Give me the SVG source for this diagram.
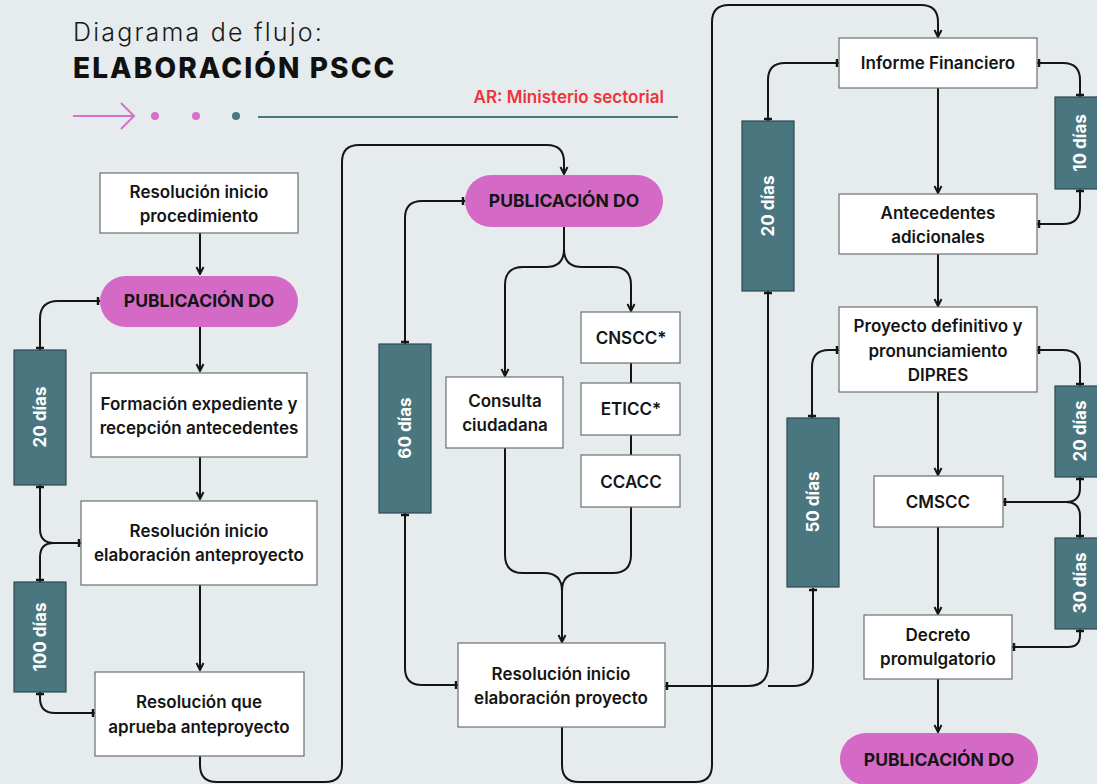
<svg xmlns="http://www.w3.org/2000/svg" width="1097" height="784" viewBox="0 0 1097 784">
<defs>
<style>
.bg{fill:#e6eced}
.box{fill:#ffffff;stroke:#6b6f70;stroke-width:1.2}
.pill{fill:#d46ac6}
.bar{fill:#4a7680;stroke:#2e4a50;stroke-width:1.2}
.t{font-family:Inter,"Noto Sans",sans-serif;font-weight:600;font-size:17px;fill:#151515;text-anchor:middle}
.tp{font-family:Inter,"Noto Sans",sans-serif;font-weight:700;font-size:17.5px;fill:#151515;text-anchor:middle}
.tb{font-family:Inter,"Noto Sans",sans-serif;font-weight:700;font-size:17px;fill:#ffffff;text-anchor:middle;dominant-baseline:central}
.c{fill:none;stroke:#151515;stroke-width:2}
.arr{marker-end:url(#arrow)}
.tee{marker-start:url(#tee);marker-end:url(#tee)}
.teeE{marker-end:url(#tee)}
.teeS{marker-start:url(#tee)}
</style>
<marker id="arrow" viewBox="0 0 10 10" refX="9" refY="5" markerWidth="10" markerHeight="10" markerUnits="userSpaceOnUse" orient="auto">
<path d="M2,1.5 L9,5 L2,8.5" fill="none" stroke="#151515" stroke-width="2"/>
</marker>
<marker id="tee" viewBox="0 0 10 10" refX="6" refY="5" markerWidth="10" markerHeight="10" markerUnits="userSpaceOnUse" orient="auto-start-reverse">
<path d="M4,1 V9" fill="none" stroke="#151515" stroke-width="2.5"/>
</marker>
</defs>
<rect class="bg" x="0" y="0" width="1097" height="784"/>

<g id="header">
<text x="73" y="41" font-family="Inter,'Noto Sans',sans-serif" font-weight="300" font-size="25" letter-spacing="2.2" fill="#1a1a1a">Diagrama de flujo:</text>
<text x="73" y="78" font-family="Inter,'Noto Sans',sans-serif" font-weight="800" font-size="28" letter-spacing="2.1" fill="#111111">ELABORACIÓN PSCC</text>
<text x="664" y="103" text-anchor="end" font-family="Inter,'Noto Sans',sans-serif" font-weight="600" font-size="17" fill="#f0323a">AR: Ministerio sectorial</text>
<path d="M73,116 H134 M121,103 L134,116 L121,129" fill="none" stroke="#d670c8" stroke-width="2"/>
<circle cx="155" cy="116" r="4" fill="#d670c8"/>
<circle cx="196" cy="116" r="4" fill="#d670c8"/>
<circle cx="236" cy="116" r="4" fill="#4a7680"/>
<path d="M258,117 H678" stroke="#4a7680" stroke-width="2"/>
</g>

<g id="connectors">
<path class="c arr" d="M200,233 V274"/>
<path class="c arr" d="M200,327 V371"/>
<path class="c arr" d="M200,457 V499"/>
<path class="c arr" d="M200,585 V670"/>
<path class="c tee" d="M100,301 H58 Q40,301 40,319 V350"/>
<path class="c tee" d="M40,485 V529 Q40,543 54,543 H81"/>
<path class="c teeE" d="M54,543 Q40,543 40,557 V582"/>
<path class="c tee" d="M40,692 V698 Q40,713 55,713 H95"/>
<path class="c arr" d="M200,756 V765 Q200,782 217,782 H325 Q342,782 342,765 V162 Q342,145 359,145 H547 Q564,145 564,162 V174"/>

<path class="c tee" d="M465,201 H422 Q405,201 405,218 V344"/>
<path class="c tee" d="M405,513 V668 Q405,685 422,685 H458"/>
<path class="c" d="M564,227 V249"/>
<path class="c arr" d="M564,249 Q564,267 546,267 H523 Q505,267 505,285 V376"/>
<path class="c arr" d="M564,249 Q564,267 582,267 H613 Q631,267 631,285 V311"/>
<path class="c" d="M631,363 V383 M631,435 V455"/>
<path class="c arr" d="M505,448 V555 Q505,573 523,573 H544 Q562,573 562,591 V642"/>
<path class="c" d="M631,507 V555 Q631,573 613,573 H580 Q562,573 562,591"/>
<path class="c arr" d="M562,727 V765 Q562,782 579,782 H695 Q712,782 712,765 V22 Q712,5 729,5 H921 Q938,5 938,22 V37"/>
<path class="c tee" d="M768,291 V666 Q768,686 748,686 H665"/>
<path class="c teeS" d="M813,588 V666 Q813,686 793,686 H768"/>

<path class="c tee" d="M839,63 H785 Q768,63 768,80 V121"/>
<path class="c tee" d="M1037,63 H1063 Q1080,63 1080,80 V97"/>
<path class="c tee" d="M1080,189 V207 Q1080,224 1063,224 H1037"/>
<path class="c arr" d="M938,88 V193"/>
<path class="c arr" d="M938,254 V306"/>
<path class="c tee" d="M839,350 H829 Q812,350 812,367 V418"/>
<path class="c tee" d="M1037,350 H1063 Q1080,350 1080,367 V386"/>
<path class="c tee" d="M1080,477 V488 Q1080,502 1066,502 H1003"/>
<path class="c teeE" d="M1066,502 Q1080,502 1080,516 V538"/>
<path class="c arr" d="M938,392 V475"/>
<path class="c tee" d="M1080,629 V635 Q1080,647 1068,647 H1012"/>
<path class="c arr" d="M938,527 V614"/>
<path class="c arr" d="M938,679 V732"/>
</g>

<g id="n-res-inicio-proc"><rect class="box" x="100" y="173" width="198" height="60"/><text class="t" x="199" y="198">Resolución inicio</text><text class="t" x="199" y="222">procedimiento</text></g>
<g id="n-pub1"><rect class="pill" x="100" y="276" width="198" height="51" rx="25.5"/><text class="tp" x="199" y="307">PUBLICACIÓN DO</text></g>
<g id="n-formacion"><rect class="box" x="91" y="373" width="216" height="84"/><text class="t" x="199" y="410">Formación expediente y</text><text class="t" x="199" y="434">recepción antecedentes</text></g>
<g id="n-res-inicio-ante"><rect class="box" x="81" y="501" width="236" height="84"/><text class="t" x="199" y="537">Resolución inicio</text><text class="t" x="199" y="561">elaboración anteproyecto</text></g>
<g id="n-res-aprueba"><rect class="box" x="95" y="672" width="209" height="84"/><text class="t" x="199" y="708">Resolución que</text><text class="t" x="199" y="733">aprueba anteproyecto</text></g>
<g id="n-d20a"><rect class="bar" x="14" y="350" width="52" height="135"/><text class="tb" transform="translate(40,417) rotate(-90)">20 días</text></g>
<g id="n-d100"><rect class="bar" x="14" y="582" width="52" height="110"/><text class="tb" transform="translate(40,637) rotate(-90)">100 días</text></g>

<g id="n-pub2"><rect class="pill" x="465" y="175" width="198" height="52" rx="26"/><text class="tp" x="564" y="207">PUBLICACIÓN DO</text></g>
<g id="n-d60"><rect class="bar" x="379" y="344" width="52" height="169"/><text class="tb" transform="translate(405,428) rotate(-90)">60 días</text></g>
<g id="n-consulta"><rect class="box" x="446" y="377" width="117" height="71"/><text class="t" x="505" y="407">Consulta</text><text class="t" x="505" y="431">ciudadana</text></g>
<g id="n-cnscc"><rect class="box" x="581" y="312" width="99" height="51"/><text class="t" x="631" y="344">CNSCC*</text></g>
<g id="n-eticc"><rect class="box" x="581" y="383" width="99" height="52"/><text class="t" x="631" y="415">ETICC*</text></g>
<g id="n-ccacc"><rect class="box" x="581" y="455" width="99" height="52"/><text class="t" x="631" y="488">CCACC</text></g>
<g id="n-res-inicio-proy"><rect class="box" x="458" y="643" width="207" height="84"/><text class="t" x="561" y="680">Resolución inicio</text><text class="t" x="561" y="704">elaboración proyecto</text></g>

<g id="n-d20b"><rect class="bar" x="742" y="121" width="52" height="170"/><text class="tb" transform="translate(768,206) rotate(-90)">20 días</text></g>
<g id="n-d50"><rect class="bar" x="787" y="418" width="52" height="169"/><text class="tb" transform="translate(813,502) rotate(-90)">50 días</text></g>
<g id="n-informe"><rect class="box" x="839" y="38" width="198" height="50"/><text class="t" x="938" y="69">Informe Financiero</text></g>
<g id="n-antecedentes"><rect class="box" x="839" y="194" width="198" height="60"/><text class="t" x="938" y="219">Antecedentes</text><text class="t" x="938" y="243">adicionales</text></g>
<g id="n-proyecto"><rect class="box" x="839" y="307" width="198" height="85"/><text class="t" x="938" y="332">Proyecto definitivo y</text><text class="t" x="938" y="357">pronunciamiento</text><text class="t" x="938" y="381">DIPRES</text></g>
<g id="n-cmscc"><rect class="box" x="874" y="476" width="129" height="51"/><text class="t" x="938" y="508">CMSCC</text></g>
<g id="n-decreto"><rect class="box" x="864" y="615" width="148" height="64"/><text class="t" x="938" y="641">Decreto</text><text class="t" x="938" y="665">promulgatorio</text></g>
<g id="n-pub3"><rect class="pill" x="840" y="733" width="198" height="52" rx="26"/><text class="tp" x="939" y="766">PUBLICACIÓN DO</text></g>
<g id="n-d10"><rect class="bar" x="1055" y="97" width="52" height="92"/><text class="tb" transform="translate(1080,143) rotate(-90)">10 días</text></g>
<g id="n-d20c"><rect class="bar" x="1055" y="386" width="52" height="91"/><text class="tb" transform="translate(1080,431) rotate(-90)">20 días</text></g>
<g id="n-d30"><rect class="bar" x="1055" y="538" width="52" height="91"/><text class="tb" transform="translate(1080,583) rotate(-90)">30 días</text></g>
</svg>
